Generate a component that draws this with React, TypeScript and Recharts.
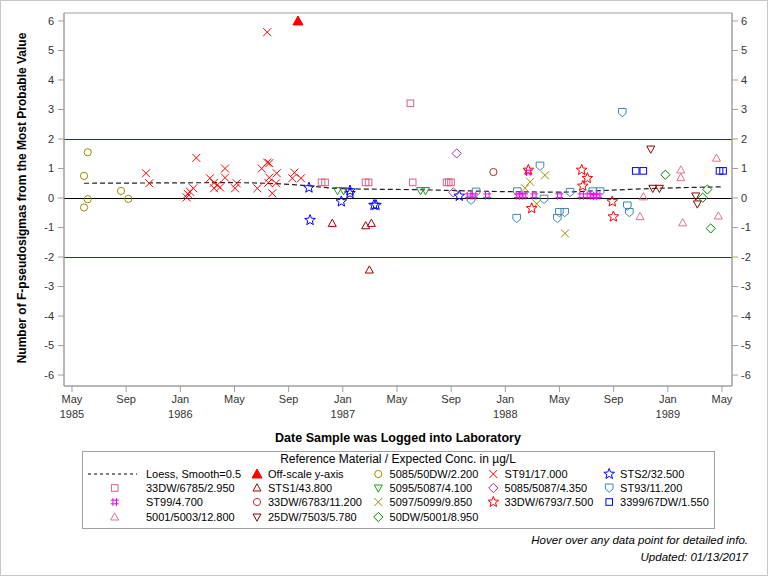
import { ComposedChart, Scatter, Line, XAxis, YAxis, ReferenceLine, ReferenceArea } from 'recharts';

// x = months since Jan 1985, y = F-pseudosigmas from most probable value
const xTicks = [4, 8, 12, 16, 20, 24, 28, 32, 36, 40, 44, 48, 52];
const xTickMonths = ['May', 'Sep', 'Jan', 'May', 'Sep', 'Jan', 'May', 'Sep', 'Jan', 'May', 'Sep', 'Jan', 'May'];
const xTickYears = ['1985', '', '1986', '', '', '1987', '', '', '1988', '', '', '1989', ''];
const yTicks = [-6, -5, -4, -3, -2, -1, 0, 1, 2, 3, 4, 5, 6];

const loess = [[4.89, 0.5], [9.76, 0.51], [15.67, 0.52], [20.84, 0.44], [23.79, 0.32], [29.7, 0.28], [35.61, 0.22], [40.04, 0.2], [42.99, 0.25], [46.69, 0.32], [52.0, 0.38]];
const offScale = [[20.69, 6.0]];
const s5085_50DW = [[5.16, 1.55], [4.89, 0.75], [5.16, -0.04], [4.89, -0.32], [7.62, 0.24], [8.16, -0.03]];
const sST91 = [
  [18.42, 5.62], [9.47, 0.84], [9.71, 0.5], [13.18, 1.36], [12.47, 0.02], [12.55, 0.14], [12.72, 0.21], [12.96, 0.33],
  [14.19, 0.67], [14.49, 0.52], [14.73, 0.44], [14.93, 0.36], [14.49, 0.33], [15.3, 1.0], [15.3, 0.69], [16.16, 0.5],
  [16.04, 0.33], [17.69, 0.33], [18.01, 1.0], [18.42, 1.2], [18.57, 1.18], [18.57, 0.69], [18.5, 0.52], [19.12, 0.84],
  [19.07, 0.5], [18.79, 0.16], [20.27, 0.67], [20.42, 0.86], [20.91, 0.67],
];
const sSTS2 = [[21.5, 0.35], [21.58, -0.75], [23.89, -0.12], [24.53, 0.25], [24.53, 0.16], [26.3, -0.24], [26.45, -0.24], [32.6, 0.07]];
const s33DW6785 = [[22.43, 0.53], [22.69, 0.53], [25.68, 0.53], [25.9, 0.53], [29.16, 0.53], [31.66, 0.53], [31.82, 0.53], [31.99, 0.53], [28.99, 3.21]];
const sSTS1 = [[23.22, -0.86], [25.69, -0.94], [26.11, -0.86], [25.96, -2.44]];
const s5095_5087 = [[23.61, 0.25], [24.05, 0.25], [29.74, 0.25], [30.11, 0.25]];
const s5085_5087 = [[32.41, 1.51], [32.16, 0.19]];
const sST93 = [
  [33.47, -0.07], [33.84, 0.2], [36.89, 0.21], [38.56, 1.08], [38.86, -0.04], [36.84, -0.69], [39.99, -0.49], [40.39, -0.49],
  [39.84, -0.69], [40.78, 0.19], [44.64, 2.9], [42.46, 0.21], [43.0, 0.21], [45.01, -0.27], [45.16, -0.49],
];
const sST99 = [
  [33.32, 0.08], [33.69, 0.08], [34.67, 0.08], [36.94, 0.08], [37.16, 0.08], [37.38, 0.08], [38.14, 0.08], [39.99, 0.08],
  [41.64, 0.08], [42.18, 0.08], [42.4, 0.08], [42.63, 0.06], [42.85, 0.08], [37.7, 0.88],
];
const s33DW6783 = [[35.12, 0.88]];
const s5097_5099 = [[37.83, 0.55], [37.46, 0.33], [38.93, 0.77], [38.32, -0.2], [40.41, -1.2]];
const s33DW6793 = [[37.7, 0.95], [37.95, -0.35], [41.64, 0.95], [42.06, 0.67], [41.72, 0.41], [43.9, -0.12], [43.98, -0.63]];
const s3399_67DW = [[45.63, 0.92], [46.19, 0.92], [51.82, 0.92], [52.08, 0.92]];
const s5001_5003 = [[46.19, 0.04], [45.95, -0.63], [48.96, 0.95], [48.96, 0.69], [49.1, -0.84], [51.59, 1.35], [51.73, -0.61]];
const s25DW7503 = [[46.74, 1.66], [46.89, 0.33], [47.38, 0.33], [50.06, 0.07], [50.18, -0.2]];
const s50DW5001 = [[47.82, 0.79], [50.92, 0.29], [50.58, 0.01], [51.17, -1.03]];

const pts = (arr: number[][]) => arr.map(([x, y]) => ({ x, y }));

const series = [
  { name: 'Off-scale y-axis', kind: 'triFill', color: '#ff0000', data: offScale },
  { name: '5085/50DW/2.200', kind: 'circle', color: '#9a8c00', data: s5085_50DW },
  { name: 'ST91/17.000', kind: 'x', color: '#ff0000', data: sST91 },
  { name: 'STS2/32.500', kind: 'star', color: '#0000ff', data: sSTS2 },
  { name: '33DW/6785/2.950', kind: 'square', color: '#d6608c', data: s33DW6785 },
  { name: 'STS1/43.800', kind: 'triUp', color: '#990000', data: sSTS1 },
  { name: '5095/5087/4.100', kind: 'triDown', color: '#1a9a1a', data: s5095_5087 },
  { name: '5085/5087/4.350', kind: 'diamond', color: '#993399', data: s5085_5087 },
  { name: 'ST93/11.200', kind: 'shield', color: '#3a88b0', data: sST93 },
  { name: 'ST99/4.700', kind: 'hash', color: '#ff00ff', data: sST99 },
  { name: '33DW/6783/11.200', kind: 'circle', color: '#b03030', data: s33DW6783 },
  { name: '5097/5099/9.850', kind: 'x', color: '#9a8c00', data: s5097_5099 },
  { name: '33DW/6793/7.500', kind: 'star', color: '#ff0000', data: s33DW6793 },
  { name: '3399/67DW/1.550', kind: 'square', color: '#0000ff', data: s3399_67DW },
  { name: '5001/5003/12.800', kind: 'triUp', color: '#e0709a', data: s5001_5003 },
  { name: '25DW/7503/5.780', kind: 'triDown', color: '#8b0000', data: s25DW7503 },
  { name: '50DW/5001/8.950', kind: 'diamond', color: '#008800', data: s50DW5001 },
];

const legendRows = [
  ['Loess, Smooth=0.5', 'Off-scale y-axis', '5085/50DW/2.200', 'ST91/17.000', 'STS2/32.500'],
  ['33DW/6785/2.950', 'STS1/43.800', '5095/5087/4.100', '5085/5087/4.350', 'ST93/11.200'],
  ['ST99/4.700', '33DW/6783/11.200', '5097/5099/9.850', '33DW/6793/7.500', '3399/67DW/1.550'],
  ['5001/5003/12.800', '25DW/7503/5.780', '50DW/5001/8.950'],
];

const FONT = '"Liberation Sans", Arial, sans-serif';

const Marker = ({ cx, cy, kind, color }: any) => {
  if (cx == null || cy == null) return null;
  const s = { fill: 'none', stroke: color, strokeWidth: 1 };
  switch (kind) {
    case 'circle':
      return <circle cx={cx} cy={cy} r={3.6} {...s} />;
    case 'square':
      return <rect x={cx - 3.3} y={cy - 3.3} width={6.6} height={6.6} {...s} />;
    case 'x':
      return (
        <g {...s}>
          <line x1={cx - 4} y1={cy - 4} x2={cx + 4} y2={cy + 4} />
          <line x1={cx - 4} y1={cy + 4} x2={cx + 4} y2={cy - 4} />
        </g>
      );
    case 'triUp':
      return <polygon points={`${cx},${cy - 4.2} ${cx + 4},${cy + 3} ${cx - 4},${cy + 3}`} {...s} />;
    case 'triDown':
      return <polygon points={`${cx},${cy + 4.2} ${cx + 4},${cy - 3} ${cx - 4},${cy - 3}`} {...s} />;
    case 'triFill':
      return <polygon points={`${cx},${cy - 5} ${cx + 5},${cy + 4} ${cx - 5},${cy + 4}`} fill={color} stroke={color} />;
    case 'diamond':
      return <polygon points={`${cx},${cy - 4.6} ${cx + 4.6},${cy} ${cx},${cy + 4.6} ${cx - 4.6},${cy}`} {...s} />;
    case 'shield':
      return <polygon points={`${cx - 3.8},${cy - 4} ${cx + 3.8},${cy - 4} ${cx + 3.8},${cy + 1} ${cx},${cy + 4.2} ${cx - 3.8},${cy + 1}`} {...s} />;
    case 'hash':
      return (
        <g {...s}>
          <line x1={cx - 1.8} y1={cy - 4} x2={cx - 1.8} y2={cy + 4} />
          <line x1={cx + 1.8} y1={cy - 4} x2={cx + 1.8} y2={cy + 4} />
          <line x1={cx - 4} y1={cy - 1.8} x2={cx + 4} y2={cy - 1.8} />
          <line x1={cx - 4} y1={cy + 1.8} x2={cx + 4} y2={cy + 1.8} />
        </g>
      );
    case 'star': {
      const p: string[] = [];
      for (let i = 0; i < 10; i++) {
        const r = i % 2 === 0 ? 5.6 : 2.4;
        const a = -Math.PI / 2 + (i * Math.PI) / 5;
        p.push(`${cx + r * Math.cos(a)},${cy + r * Math.sin(a)}`);
      }
      return <polygon points={p.join(' ')} {...s} />;
    }
    default:
      return null;
  }
};

const XTick = ({ x, y, payload }: any) => {
  const i = xTicks.indexOf(payload.value);
  return (
    <g>
      <text x={x} y={y + 9} textAnchor="middle" fontSize={11} fill="#333" fontFamily={FONT}>{xTickMonths[i]}</text>
      {xTickYears[i] && (
        <text x={x} y={y + 24} textAnchor="middle" fontSize={11} fill="#333" fontFamily={FONT}>{xTickYears[i]}</text>
      )}
    </g>
  );
};

const legendSymbolX = [114.7, 257, 378.3, 493.3, 609.2];
const legendTextX = [146, 268, 389.6, 504.6, 620.1];
const legendRowY = [474, 488, 502, 517];

export default function App() {
  return (
    <div style={{ position: 'absolute', left: 0, top: 0, width: 768, height: 576, background: '#fff', fontFamily: FONT }}>
      <ComposedChart width={768} height={576} margin={{ top: 13, right: 6, bottom: 140, left: 10 }}>
        <XAxis
          dataKey="x"
          type="number"
          domain={[3.41, 52.74]}
          ticks={xTicks}
          allowDataOverflow
          height={50}
          tick={<XTick />}
          tickSize={6}
          stroke="#a0a0a0"
        />
        <YAxis
          yAxisId="left"
          dataKey="y"
          type="number"
          domain={[-6.37, 6.27]}
          ticks={yTicks}
          allowDataOverflow
          width={54}
          tickSize={6}
          tickMargin={4}
          stroke="#a0a0a0"
          tick={{ fontSize: 11, fill: '#333', fontFamily: FONT }}
        />
        <YAxis
          yAxisId="right"
          orientation="right"
          type="number"
          domain={[-6.37, 6.27]}
          ticks={yTicks}
          allowDataOverflow
          width={30}
          tickSize={6}
          tickMargin={3}
          stroke="#a0a0a0"
          tick={{ fontSize: 11, fill: '#333', fontFamily: FONT }}
        />
        <ReferenceArea yAxisId="left" x1={3.41} x2={52.74} y1={-6.37} y2={6.27} fill="none" stroke="#a0a0a0" />
        <ReferenceLine yAxisId="left" y={2} stroke="#2a2a8a" shapeRendering="crispEdges" />
        <ReferenceLine yAxisId="left" y={-2} stroke="#2a2a8a" shapeRendering="crispEdges" />
        <ReferenceLine yAxisId="left" y={0} stroke="#000" shapeRendering="crispEdges" />
        <Line
          yAxisId="left"
          data={pts(loess)}
          dataKey="y"
          type="monotone"
          stroke="#222"
          strokeWidth={1.2}
          strokeDasharray="5 3"
          dot={false}
          isAnimationActive={false}
        />
        {series.map((s) => (
          <Scatter
            key={s.name}
            yAxisId="left"
            name={s.name}
            data={pts(s.data)}
            isAnimationActive={false}
            shape={(p: any) => <Marker cx={p.cx} cy={p.cy} kind={s.kind} color={s.color} />}
          />
        ))}
      </ComposedChart>

      <svg width={768} height={576} style={{ position: 'absolute', left: 0, top: 0, pointerEvents: 'none' }}>
        <text
          transform="translate(26,198) rotate(-90)"
          textAnchor="middle"
          fontSize={12}
          fontWeight="bold"
          fontFamily={FONT}
          fill="#000"
        >
          Number of F-pseudosigmas from the Most Probable Value
        </text>
        <text x={398} y={442} textAnchor="middle" fontSize={12.5} fontWeight="bold" fontFamily={FONT} fill="#000">
          Date Sample was Logged into Laboratory
        </text>

        <rect x={82.5} y={451.5} width={632} height={77} fill="none" stroke="#a0a0a0" />
        <text x={398} y={463} textAnchor="middle" fontSize={12} fontFamily={FONT} fill="#000">
          Reference Material / Expected Conc. in µg/L
        </text>
        {legendRows.map((row, r) =>
          row.map((label, c) => {
            const y = legendRowY[r];
            const isLoess = label.startsWith('Loess');
            const ser = series.find((s) => s.name === label);
            return (
              <g key={label}>
                {isLoess ? (
                  <line x1={88} y1={y} x2={137} y2={y} stroke="#000" strokeDasharray="3 3" />
                ) : ser ? (
                  <Marker cx={legendSymbolX[c]} cy={y} kind={ser.kind} color={ser.color} />
                ) : null}
                <text x={legendTextX[c]} y={y + 4} fontSize={11} fontFamily={FONT} fill="#000">{label}</text>
              </g>
            );
          })
        )}

        <text x={748} y={544} textAnchor="end" fontSize={11.5} fontStyle="italic" fontFamily={FONT} fill="#000">
          Hover over any data point for detailed info.
        </text>
        <text x={748} y={561} textAnchor="end" fontSize={11.5} fontStyle="italic" fontFamily={FONT} fill="#000">
          Updated: 01/13/2017
        </text>
        <rect x={0.5} y={0.5} width={767} height={575} fill="none" stroke="#c8c8c8" />
      </svg>
    </div>
  );
}
